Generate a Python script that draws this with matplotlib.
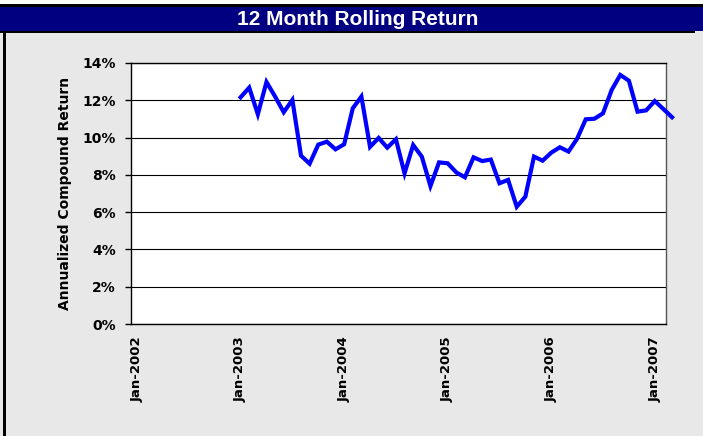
import pandas as pd
import matplotlib
matplotlib.use("Agg")
import matplotlib.pyplot as plt
from matplotlib.patches import Rectangle
from matplotlib.ticker import FuncFormatter

# 12 month rolling return, monthly from Jan-2003 to Mar-2007 (percent)
returns = [
    12.16, 12.68, 11.25, 12.98, 12.20, 11.36, 12.02, 9.03, 8.60, 9.62, 9.78, 9.37,
    9.64, 11.57, 12.20, 9.50, 9.98, 9.46, 9.91, 8.08, 9.60, 8.98, 7.40, 8.67,
    8.62, 8.13, 7.87, 8.94, 8.74, 8.82, 7.55, 7.73, 6.29, 6.83, 8.98, 8.76,
    9.19, 9.48, 9.25, 9.94, 10.98, 11.01, 11.30, 12.55, 13.36, 13.05, 11.39, 11.46,
    11.96, 11.53, 11.09,
]
tick_labels = ["Jan-2002", "Jan-2003", "Jan-2004", "Jan-2005", "Jan-2006", "Jan-2007"]
y_ticks = [0, 2, 4, 6, 8, 10, 12, 14]

axis_start = pd.Timestamp("2002-01-01")
dates = pd.date_range("2003-01-01", periods=len(returns), freq="MS")
months = [(d.year - axis_start.year) * 12 + (d.month - axis_start.month) for d in dates]

W, H = 703, 436
BG = "#e8e8e8"
fig = plt.figure(figsize=(W / 100, H / 100), dpi=100)
fig.patch.set_facecolor(BG)


def px_rect(x0, y0, x1, y1, color):
    # rectangle in pixel coords measured from the top-left corner
    fig.patches.append(Rectangle((x0 / W, 1 - y1 / H), (x1 - x0) / W, (y1 - y0) / H,
                                 transform=fig.transFigure, color=color, lw=0, zorder=0))


px_rect(0, 0, W, 4, "white")
px_rect(0, 4, W, 7, "black")
px_rect(0, 7, W, 31, "#000080")
px_rect(0, 31, 695, 33, "black")
px_rect(3, 31, 6, H, "black")

fig.text(357.5 / W, 1 - 19.5 / H, "12 Month Rolling Return", color="white",
         ha="center", va="center", fontsize=15, fontweight="bold",
         family="Liberation Sans")

left, right, top, bottom = 131, 666, 63, 324
ax = fig.add_axes([left / W, 1 - bottom / H, (right - left) / W, (bottom - top) / H])
ax.set_facecolor("white")

ax.plot(months, returns, color="#0000ff", linewidth=3, solid_joinstyle="miter",
        clip_on=False, zorder=3)

ax.set_xlim(-0.7, 61.3)
ax.set_ylim(0, 14)
ax.set_yticks(y_ticks)
ax.yaxis.set_major_formatter(FuncFormatter(lambda v, _: f"{v:.0f}%"))
ax.set_xticks([12 * i for i in range(len(tick_labels))])
ax.set_xticklabels(tick_labels, rotation=90)
ax.grid(axis="y", color="black", linewidth=0.8)
ax.set_axisbelow(True)

for side in ["left", "bottom", "top"]:
    ax.spines[side].set_color("black")
    ax.spines[side].set_linewidth(1)
ax.spines["right"].set_color("#555555")
ax.spines["right"].set_linewidth(1)

ax.tick_params(axis="y", length=4, width=1, pad=7, labelsize=10)
ax.tick_params(axis="x", length=0, pad=9, labelsize=9.5)
for lbl in ax.get_xticklabels() + ax.get_yticklabels():
    lbl.set_fontweight("bold")

ax.set_ylabel("Annualized Compound Return", fontsize=10, fontweight="bold", labelpad=7)

fig.savefig("out.png", dpi=100, facecolor=BG)
